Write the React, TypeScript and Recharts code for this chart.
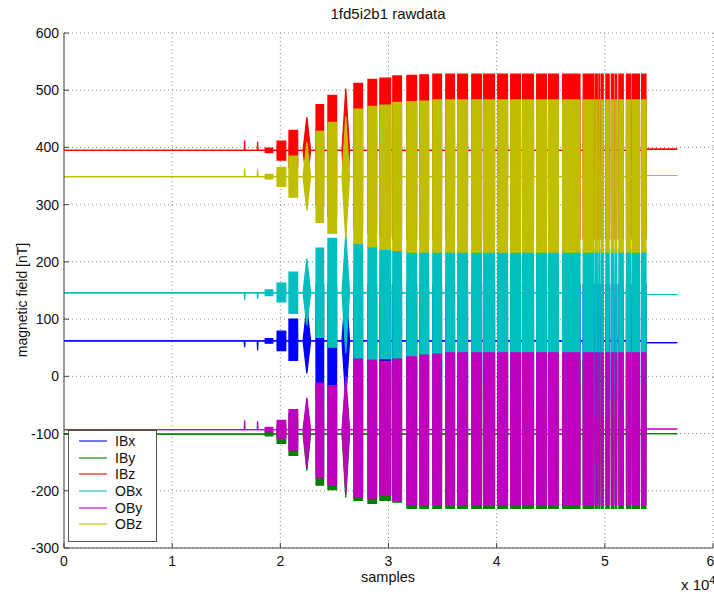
import React from 'react';
import { ComposedChart, Area, XAxis, YAxis, CartesianGrid, Legend } from 'recharts';

// ---- series ----
const seriesNames = ['IBx', 'IBy', 'IBz', 'OBx', 'OBy', 'OBz'];
const seriesColors = ['#0000ff', '#008000', '#ff0000', '#00bfbf', '#bf00bf', '#bfbf00'];

// quiet-level field values (nT) before and after the rotation bursts
const baseBefore = [62, -101, 395, 146, -93, 349];
const baseAfter = [59, -100, 397, 143, -92, 351];

// record span (x 10^4 samples)
const recordStart = 0;
const recordEnd = 5.67;

// axis ticks
const xTicks = [0, 1, 2, 3, 4, 5, 6];
const yTicks = [-300, -200, -100, 0, 100, 200, 300, 400, 500, 600];

// isolated spikes (x 10^4 samples) and their tip values per series
const spikeX = [1.67, 1.79];
const IBxSpike = [51, 45];
const IBySpike = [-101, -101];
const IBzSpike = [412, 410];
const OBxSpike = [133, 135];
const OBySpike = [-77, -78];
const OBzSpike = [363, 362];

// oscillation bursts (x 10^4 samples); the last ones break up into narrow strips
const burstStart = [1.86, 1.97, 2.08, 2.21, 2.33, 2.44, 2.57, 2.68, 2.81, 2.92, 3.04, 3.17, 3.29, 3.41, 3.53, 3.64, 3.77, 3.88, 4.01, 4.13, 4.24, 4.37, 4.48, 4.61, 4.80, 4.915, 4.945, 4.97, 5.01, 5.06, 5.095, 5.13, 5.20, 5.255, 5.34];
const burstEnd = [1.93, 2.05, 2.16, 2.28, 2.40, 2.52, 2.64, 2.76, 2.89, 3.02, 3.12, 3.26, 3.37, 3.49, 3.61, 3.73, 3.86, 3.98, 4.10, 4.22, 4.34, 4.46, 4.57, 4.77, 4.90, 4.930, 4.955, 4.985, 5.04, 5.08, 5.11, 5.17, 5.24, 5.32, 5.38];
const burstPeaked = [false, false, false, true, false, false, true, false, false, false, false, false, false, false, false, false, false, false, false, false, false, false, false, false, false, false, false, false, false, false, false, false, false, false, false];

// per-burst envelope (min / max) of each series, nT
const IBxHi = [66, 79, 100, 121, 160, 160, 160, 160, 160, 160, 160, 160, 160, 160, 160, 160, 160, 160, 160, 160, 160, 160, 160, 160, 160, 160, 160, 160, 160, 160, 160, 160, 160, 160, 160];
const IBxLo = [58, 45, 28, 5, -40, -40, -40, -40, -40, -40, -40, -40, -40, -40, -40, -40, -40, -40, -40, -40, -40, -40, -40, -40, -40, -40, -40, -40, -40, -40, -40, -40, -40, -40, -40];
const IByHi = [-96, -85, -66, -45, -20, -25, -10, 20, 20, 20, 25, 25, 25, 25, 25, 25, 25, 25, 25, 25, 25, 25, 25, 25, 25, 25, 25, 25, 25, 25, 25, 25, 25, 25, 25];
const IByLo = [-104, -117, -138, -165, -190, -198, -212, -217, -222, -217, -220, -231, -231, -231, -231, -231, -231, -231, -231, -231, -231, -231, -231, -231, -231, -231, -231, -231, -231, -231, -231, -231, -231, -231, -231];
const IBzHi = [399, 411, 430, 453, 475, 491, 503, 512, 519, 521, 525, 526, 527, 528, 528, 528, 528, 528, 528, 528, 528, 528, 528, 528, 528, 528, 528, 528, 528, 528, 528, 528, 528, 528, 528];
const IBzLo = [391, 378, 365, 335, 300, 280, 270, 260, 250, 245, 240, 240, 240, 240, 240, 240, 240, 240, 240, 240, 240, 240, 240, 240, 240, 240, 240, 240, 240, 240, 240, 240, 240, 240, 240];
const OBxHi = [151, 163, 182, 206, 224, 241, 250, 232, 228, 222, 222, 222, 222, 222, 222, 222, 222, 222, 222, 222, 222, 222, 222, 222, 222, 222, 222, 222, 222, 222, 222, 222, 222, 222, 222];
const OBxLo = [141, 130, 110, 89, 68, 51, 40, 31, 29, 31, 31, 34, -70, -70, -70, -70, -70, -70, -70, -70, -70, -70, -70, -70, -70, -70, -70, -70, -70, -70, -70, -70, -70, -70, -70];
const OByHi = [-89, -77, -58, -37, -12, -16, 0, 30, 28, 26, 30, 34, 37, 39, 41, 41, 41, 41, 41, 41, 41, 41, 41, 41, 41, 41, 41, 41, 41, 41, 41, 41, 41, 41, 41];
const OByLo = [-97, -108, -129, -161, -177, -190, -205, -211, -213, -208, -217, -224, -224, -224, -224, -224, -224, -224, -224, -224, -224, -224, -224, -224, -224, -224, -224, -224, -224, -224, -224, -224, -224, -224, -224];
const OBzHi = [353, 365, 385, 410, 428, 444, 455, 467, 472, 474, 479, 480, 481, 483, 483, 483, 483, 483, 483, 483, 483, 483, 483, 483, 483, 483, 483, 483, 483, 483, 483, 483, 483, 483, 483];
const OBzLo = [345, 332, 313, 290, 269, 250, 240, 232, 226, 222, 220, 217, 217, 217, 217, 217, 217, 217, 217, 217, 217, 217, 217, 217, 217, 217, 217, 217, 217, 217, 217, 217, 217, 217, 217];

const hiTable = [IBxHi, IByHi, IBzHi, OBxHi, OByHi, OBzHi];
const loTable = [IBxLo, IByLo, IBzLo, OBxLo, OByLo, OBzLo];
const spikeTable = [IBxSpike, IBySpike, IBzSpike, OBxSpike, OBySpike, OBzSpike];

type Row = { x: number; [k: string]: number | number[] };

function baseRow(x: number, after: boolean): Row {
  const r: Row = { x };
  seriesNames.forEach((n, i) => {
    const b = after ? baseAfter[i] : baseBefore[i];
    r[n] = [b, b];
  });
  return r;
}
function burstRow(x: number, k: number): Row {
  const r: Row = { x };
  seriesNames.forEach((n, i) => {
    r[n] = [loTable[i][k], hiTable[i][k]];
  });
  return r;
}
function spikeRow(x: number, k: number): Row {
  const r: Row = { x };
  seriesNames.forEach((n, i) => {
    const b = baseBefore[i];
    const t = spikeTable[i][k];
    r[n] = [Math.min(b, t), Math.max(b, t)];
  });
  return r;
}

function buildData(): Row[] {
  const rows: Row[] = [baseRow(recordStart, false)];
  spikeX.forEach((sx, k) => {
    rows.push(baseRow(sx - 0.004, false), spikeRow(sx, k), baseRow(sx + 0.004, false));
  });
  const last = burstStart.length - 1;
  burstStart.forEach((s, k) => {
    const e = burstEnd[k];
    const after = k === last;
    if (burstPeaked[k]) {
      rows.push(baseRow(s, false), burstRow((s + e) / 2, k), baseRow(e, after));
    } else {
      rows.push(baseRow(s - 0.001, false), burstRow(s, k), burstRow(e, k), baseRow(e + 0.001, after));
    }
  });
  rows.push(baseRow(recordEnd, true));
  rows.sort((a, b) => a.x - b.x);
  return rows;
}

const FONT = '"Liberation Sans", Arial, Helvetica, sans-serif';

function LegendBox(props: any) {
  const payload = (props && props.payload) || [];
  const items = payload.length
    ? payload.map((p: any) => ({ name: p.value, color: p.color }))
    : seriesNames.map((n, i) => ({ name: n, color: seriesColors[i] }));
  return (
    <div
      style={{
        width: 87,
        height: 108,
        border: '1px solid #555',
        background: '#fff',
        fontFamily: FONT,
        fontSize: 14,
        color: '#111',
        paddingTop: 2,
        boxSizing: 'content-box',
      }}
    >
      {items.map((it: any) => (
        <div key={it.name} style={{ display: 'flex', alignItems: 'center', height: 16.6 }}>
          <div style={{ width: 28, height: 2, background: it.color, opacity: 0.55, marginLeft: 10, marginRight: 8 }} />
          <span style={{ lineHeight: '16px' }}>{it.name}</span>
        </div>
      ))}
    </div>
  );
}

export default function App() {
  const data = buildData();
  const tickStyle = { fill: '#111', fontSize: 14, fontFamily: FONT };
  return (
    <div style={{ position: 'absolute', left: 0, top: 0, width: 714, height: 592, background: '#fff', overflow: 'hidden', fontFamily: FONT }}>
      <ComposedChart width={714} height={592} data={data} margin={{ top: 33, right: 1, bottom: 14, left: 14 }}>
        <CartesianGrid xAxisId="b" yAxisId="l" stroke="#8a8a8a" strokeDasharray="1 3" />
        <XAxis
          xAxisId="b"
          type="number"
          dataKey="x"
          domain={[0, 6]}
          ticks={xTicks}
          allowDataOverflow
          height={30}
          tickSize={-5}
          tickMargin={13}
          tick={tickStyle}
          axisLine={{ stroke: '#444' }}
          tickLine={{ stroke: '#444' }}
        />
        <XAxis
          xAxisId="t"
          orientation="top"
          type="number"
          dataKey="x"
          domain={[0, 6]}
          ticks={xTicks}
          allowDataOverflow
          height={0}
          tickSize={-5}
          tick={false}
          axisLine={{ stroke: '#444' }}
          tickLine={{ stroke: '#444' }}
        />
        <YAxis
          yAxisId="l"
          type="number"
          domain={[-300, 600]}
          ticks={yTicks}
          allowDataOverflow
          width={50}
          tickSize={-5}
          tickMargin={10}
          tick={tickStyle}
          axisLine={{ stroke: '#444' }}
          tickLine={{ stroke: '#444' }}
        />
        <YAxis
          yAxisId="r"
          orientation="right"
          type="number"
          domain={[-300, 600]}
          ticks={yTicks}
          allowDataOverflow
          width={0}
          tickSize={-5}
          tick={false}
          axisLine={{ stroke: '#444' }}
          tickLine={{ stroke: '#444' }}
        />
        {seriesNames.map((n, i) => (
          <Area
            key={n}
            xAxisId="b"
            yAxisId="l"
            type="linear"
            dataKey={n}
            name={n}
            stroke={seriesColors[i]}
            strokeWidth={1.2}
            fill={seriesColors[i]}
            fillOpacity={1}
            dot={false}
            activeDot={false}
            isAnimationActive={false}
          />
        ))}
        <Legend
          layout="vertical"
          align="center"
          verticalAlign="middle"
          wrapperStyle={{ position: 'absolute', left: 68, top: 430, width: 'auto', height: 'auto' }}
          content={(p: any) => <LegendBox {...p} />}
        />
      </ComposedChart>
      <div style={{ position: 'absolute', left: 288, top: 5, width: 200, textAlign: 'center', fontSize: 15, color: '#111' }}>1fd5i2b1 rawdata</div>
      <div style={{ position: 'absolute', left: 338, top: 569, width: 100, textAlign: 'center', fontSize: 14.5, color: '#111' }}>samples</div>
      <div style={{ position: 'absolute', left: 681, top: 574, fontSize: 15, color: '#111', whiteSpace: 'nowrap' }}>
        x 10<sup style={{ fontSize: 11 }}>4</sup>
      </div>
      <div
        style={{
          position: 'absolute',
          left: 22,
          top: 300,
          transform: 'translate(-50%, -50%) rotate(-90deg)',
          fontSize: 14,
          color: '#111',
          whiteSpace: 'nowrap',
        }}
      >
        magnetic field [nT]
      </div>
    </div>
  );
}
